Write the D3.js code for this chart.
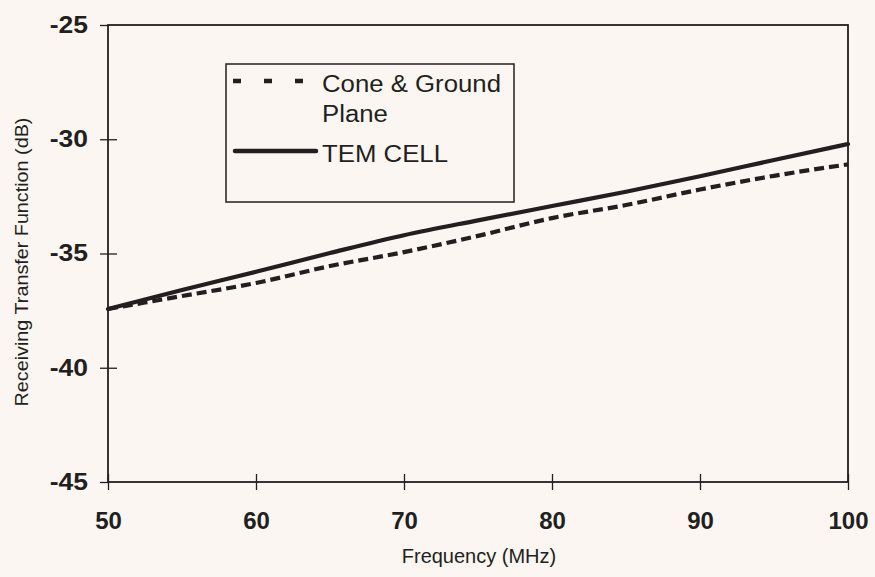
<!DOCTYPE html>
<html>
<head>
<meta charset="utf-8">
<script src="https://cdn.jsdelivr.net/npm/d3@7"></script>
<style>
  html, body { margin: 0; padding: 0; background: #fbf6f2; }
  svg { display: block; }
  text { font-family: Arial, "Liberation Sans", sans-serif; fill: #231f20; }
</style>
</head>
<body>
<svg id="chart" width="875" height="577"></svg>
<script>
// frequency points (MHz)
const freq = [50, 55, 60, 65, 70, 75, 80, 85, 90, 95, 100];
// receiving transfer function (dB)
const temCell    = [-37.43, -36.6, -35.8, -34.98, -34.2, -33.55, -32.92, -32.3, -31.62, -30.91, -30.21];
const coneGround = [-37.43, -36.86, -36.29, -35.55, -34.94, -34.23, -33.45, -32.88, -32.2, -31.6, -31.1];

const xTicks = [50, 60, 70, 80, 90, 100];
const yTicks = [-25, -30, -35, -40, -45];

const ink = "#231f20";
const svg = d3.select("#chart");

const x = d3.scaleLinear().domain([50, 100]).range([108, 848]);
const y = d3.scaleLinear().domain([-45, -25]).range([482, 25]);

// stretch text horizontally, the scanned figure is wider than Arial
function stretch(sel, factor) {
    sel.each(function () {
        const w = this.getComputedTextLength();
        d3.select(this)
            .attr("textLength", w * factor)
            .attr("lengthAdjust", "spacingAndGlyphs");
    });
}

/* frame */
svg.append("rect")
    .attr("x", x(50)).attr("y", y(-25))
    .attr("width", x(100) - x(50)).attr("height", y(-45) - y(-25))
    .attr("fill", "none").attr("stroke", ink).attr("stroke-width", 1.8);

/* x axis */
const gx = svg.append("g")
    .attr("transform", `translate(0,${y(-45)})`)
    .call(d3.axisBottom(x).tickValues(xTicks).tickFormat(d => String(d))
        .tickSizeOuter(0).tickSize(8).tickPadding(22));
gx.select(".domain").remove();
gx.selectAll(".tick line").attr("y1", -8).attr("y2", 8).attr("stroke", ink).attr("stroke-width", 1.3);
gx.selectAll(".tick text")
    .attr("font-size", 24).attr("font-weight", "bold").attr("fill", ink)
    .attr("font-family", "Arial, 'Liberation Sans', sans-serif");

/* y axis */
const gy = svg.append("g")
    .attr("transform", `translate(${x(50)},0)`)
    .call(d3.axisLeft(y).tickValues(yTicks).tickFormat(d => String(d))
        .tickSize(8).tickPadding(12));
gy.select(".domain").remove();
gy.selectAll(".tick line")
    .attr("x2", -8)
    .attr("x1", d => (d === -25 || d === -45) ? 0 : 9)
    .attr("stroke", ink).attr("stroke-width", 1.3);
gy.selectAll(".tick text")
    .attr("font-size", 23).attr("font-weight", "bold").attr("fill", ink)
    .attr("font-family", "Arial, 'Liberation Sans', sans-serif")
    .call(stretch, 1.15);

/* axis titles */
svg.append("text")
    .attr("x", 479).attr("y", 563)
    .attr("text-anchor", "middle")
    .attr("font-size", 20)
    .text("Frequency (MHz)");

svg.append("text")
    .attr("transform", "translate(28,262) rotate(-90)")
    .attr("text-anchor", "middle")
    .attr("font-size", 19)
    .text("Receiving Transfer Function (dB)")
    .call(stretch, 1.04);

/* series */
const line = d3.line()
    .x((d, i) => x(freq[i]))
    .y(d => y(d))
    .curve(d3.curveMonotoneX);

svg.append("path")
    .datum(coneGround)
    .attr("d", line)
    .attr("fill", "none").attr("stroke", ink)
    .attr("stroke-width", 4.2)
    .attr("stroke-dasharray", "10,5");

svg.append("path")
    .datum(temCell)
    .attr("d", line)
    .attr("fill", "none").attr("stroke", ink)
    .attr("stroke-width", 4.2)
    .attr("stroke-linecap", "round");

/* legend */
const lg = svg.append("g");
lg.append("rect")
    .attr("x", 226).attr("y", 64).attr("width", 288).attr("height", 138)
    .attr("fill", "#fbf6f2").attr("stroke", ink).attr("stroke-width", 1.5);

lg.append("line")
    .attr("x1", 233).attr("x2", 305).attr("y1", 81).attr("y2", 81)
    .attr("stroke", ink).attr("stroke-width", 4.5)
    .attr("stroke-dasharray", "8,23");
lg.append("line")
    .attr("x1", 235).attr("x2", 316).attr("y1", 151).attr("y2", 151)
    .attr("stroke", ink).attr("stroke-width", 4.5)
    .attr("stroke-linecap", "round");

const legendText = [
    { label: "Cone & Ground", ty: 92 },
    { label: "Plane", ty: 122 },
    { label: "TEM CELL", ty: 162 }
];
lg.selectAll("text.lbl")
    .data(legendText)
    .join("text")
    .attr("class", "lbl")
    .attr("x", 322).attr("y", d => d.ty)
    .attr("font-size", 23)
    .text(d => d.label)
    .call(stretch, 1.12);
</script>
</body>
</html>
